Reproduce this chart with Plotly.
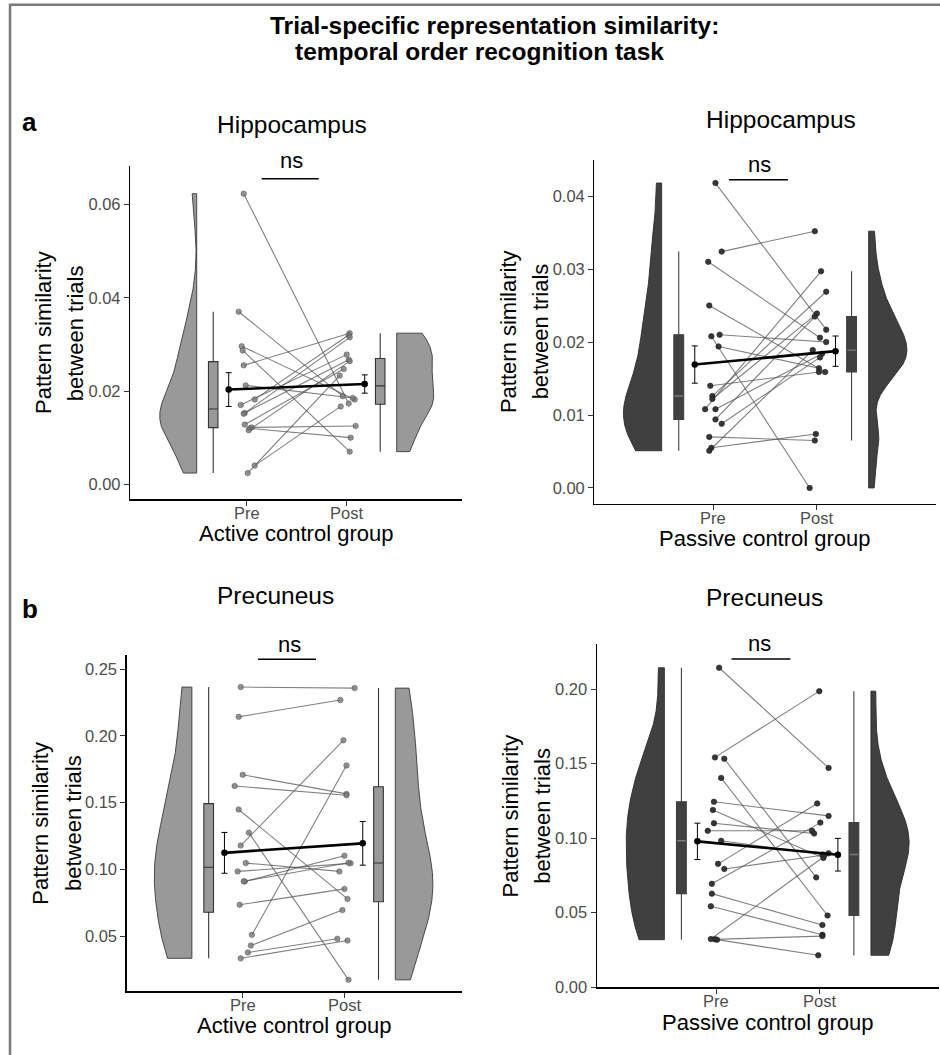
import numpy as np
import plotly.graph_objects as go

# ---------------- data ----------------
TITLE_LINES = ["Trial-specific representation similarity:", "temporal order recognition task"]
ROI_TITLES = ["Hippocampus", "Hippocampus", "Precuneus", "Precuneus"]
GROUP_LABELS = ["Active control group", "Passive control group",
                "Active control group", "Passive control group"]
SESSION_LABELS = ["Pre", "Post"]
Y_TITLE_LINES = ["Pattern similarity", "between trials"]
PANEL_LETTERS = ["a", "b"]
SIG_LABEL = "ns"

hip_active_pre = [0.0623, 0.0370, 0.0296, 0.0287, 0.0255, 0.0212, 0.0182, 0.0170,
                  0.0153, 0.0151, 0.0128, 0.0122, 0.0120, 0.0116, 0.0040, 0.0024]
hip_active_post = [0.0173, 0.0189, 0.0182, 0.0070, 0.0324, 0.0185, 0.0320, 0.0278,
                   0.0267, 0.0315, 0.0247, 0.0125, 0.0100, 0.0264, 0.0167, 0.0233]

hip_passive_pre = [0.0418, 0.0324, 0.0310, 0.0250, 0.0208, 0.0210, 0.0194, 0.0140, 0.0126,
                   0.0122, 0.0108, 0.0108, 0.0094, 0.0088, 0.0070, 0.0055, 0.0051]
hip_passive_post = [0.0217, 0.0352, 0.0206, 0.0159, 0.0000, 0.0200, 0.0164, 0.0159, 0.0269,
                    0.0239, 0.0297, 0.0184, 0.0235, 0.0179, 0.0065, 0.0074, 0.0189]

prec_active_pre = [0.2365, 0.2142, 0.1708, 0.1624, 0.1448, 0.1275, 0.1178, 0.1047,
                   0.0985, 0.0909, 0.0911, 0.0735, 0.0510, 0.0430, 0.0378, 0.0334]
prec_active_post = [0.2357, 0.2268, 0.1565, 0.1555, 0.0779, 0.0173, 0.1966, 0.0985,
                    0.1045, 0.1102, 0.1050, 0.0854, 0.1778, 0.0695, 0.0480, 0.0467]

prec_passive_pre = [0.2144, 0.1542, 0.1533, 0.1404, 0.1244, 0.1189, 0.1100, 0.1049, 0.0982,
                    0.0827, 0.0793, 0.0693, 0.0627, 0.0542, 0.0322, 0.0320, 0.0318]
prec_passive_post = [0.1471, 0.1987, 0.0736, 0.0480, 0.1149, 0.0867, 0.1031, 0.1049, 0.0890,
                     0.1233, 0.0887, 0.1104, 0.0416, 0.0351, 0.0898, 0.0342, 0.0213]

y_ticks_hip_active = [0.00, 0.02, 0.04, 0.06]
y_ticks_hip_passive = [0.00, 0.01, 0.02, 0.03, 0.04]
y_ticks_prec_active = [0.05, 0.10, 0.15, 0.20, 0.25]
y_ticks_prec_passive = [0.00, 0.05, 0.10, 0.15, 0.20]

# ---------------- layout / style constants ----------------
W, H = 940, 1055
FONT = "Liberation Sans, Arial, Helvetica, sans-serif"

# horizontal jitter of the individual points (position only)
JIT = {
    "a1": ([-0.03, -0.08, -0.05, -0.04, -0.03, -0.01, 0.08, -0.06, -0.02, -0.03, -0.02, 0.05, 0.03, 0.02, 0.08, 0.01],
           [0.02, -0.04, 0.08, 0.03, 0.03, 0.06, 0.02, 0.00, 0.02, 0.03, -0.03, 0.09, 0.04, 0.03, -0.06, -0.07]),
    "a2": ([0.02, 0.08, -0.05, -0.04, -0.02, 0.06, 0.05, -0.03, -0.01, -0.01, -0.08, 0.02, 0.02, 0.08, -0.04, -0.02, -0.04],
           [0.09, -0.02, 0.03, 0.08, -0.07, 0.09, 0.02, 0.02, 0.09, 0.00, 0.04, 0.05, -0.02, 0.03, -0.02, -0.01, -0.04]),
    "b1": ([-0.02, -0.04, 0.00, -0.08, -0.04, 0.06, -0.02, 0.03, -0.05, 0.02, 0.01, -0.03, 0.09, 0.08, 0.05, -0.02],
           [0.10, -0.04, 0.02, 0.02, 0.03, 0.04, -0.01, -0.05, 0.06, 0.00, 0.04, 0.00, 0.02, -0.02, -0.07, 0.03]),
    "b2": ([0.03, -0.01, 0.08, 0.05, -0.02, -0.03, -0.02, -0.08, 0.05, 0.02, 0.08, -0.04, -0.04, -0.05, -0.05, -0.01, 0.01],
           [0.09, 0.00, -0.03, 0.08, 0.09, 0.04, -0.05, -0.07, 0.03, -0.02, 0.05, 0.01, 0.03, 0.03, 0.09, 0.03, -0.01]),
}

VIOLIN_X = (0.5, 2.5)
VIOLIN_W = 0.37
BOX_X = (0.665, 2.335)
BOX_W = 0.095
MEAN_X = (0.82, 2.18)
SESSION_X = (1, 2)
SIG_X = (1.15, 1.72)
XTICK_LABEL_OFFSET = 14   # px below the x axis line

STYLE = {
    False: dict(fill="#999999", vline="#3a3a3a", bline="#333333", med=None,
                pt="rgba(120,120,120,0.8)", ptline="rgba(70,70,70,0.75)"),
    True: dict(fill="#404040", vline="#2b2b2b", bline="#404040", med="#7a7a7a",
               pt="rgba(45,45,45,0.95)", ptline="rgba(30,30,30,1)"),
}

PANELS = [
    dict(key="a1", pre=hip_active_pre, post=hip_active_post, yticks=y_ticks_hip_active, dark=False,
         xdom=(130, 462), ydom=(167, 503.3), xr=(-0.167, 3.153), yr=(-0.00326, 0.0683),
         title=(292, 125), xtitle=(296, 538), ytx=(44, 76.3), yty=335.5,
         sig_py=180, ns=(291, 162)),
    dict(key="a2", pre=hip_passive_pre, post=hip_passive_post, yticks=y_ticks_hip_passive, dark=True,
         xdom=(594.3, 936), ydom=(161, 507.7), xr=(-0.151, 3.151), yr=(-0.00218, 0.04499),
         title=(781, 120), xtitle=(765, 542.5), ytx=(508.3, 540.6), yty=334.3,
         sig_py=181, ns=(759, 166)),
    dict(key="b1", pre=prec_active_pre, post=prec_active_post, yticks=y_ticks_prec_active, dark=False,
         xdom=(126.5, 461.7), ydom=(660, 999), xr=(-0.143, 3.153), yr=(0.00862, 0.2605),
         title=(275, 600), xtitle=(294, 1033), ytx=(40.5, 72.8), yty=829.5,
         sig_py=664.3, ns=(289, 649)),
    dict(key="b2", pre=prec_passive_pre, post=prec_passive_post, yticks=y_ticks_prec_passive, dark=True,
         xdom=(596.7, 938.6), ydom=(649.3, 995), xr=(-0.155, 3.155), yr=(-0.0003, 0.2301),
         title=(764, 601.7), xtitle=(767.5, 1030), ytx=(510.7, 543), yty=822,
         sig_py=664, ns=(759.5, 648)),
]


def pxx(x):
    return x / W


def pxy(y):
    return 1 - y / H


def half_violin(values, x_flat, direction):
    v = np.asarray(values, dtype=float)
    n = len(v)
    sd = v.std(ddof=1)
    q75, q25 = np.percentile(v, [75, 25])
    lo = min(sd, (q75 - q25) / 1.34) or sd
    bw = 0.9 * lo * n ** -0.2
    grid = np.linspace(v.min(), v.max(), 512)
    dens = np.exp(-0.5 * ((grid[:, None] - v[None, :]) / bw) ** 2).sum(axis=1)
    w = dens / dens.max() * VIOLIN_W
    xs = np.concatenate([x_flat + direction * w, [x_flat, x_flat, x_flat + direction * w[0]]])
    ys = np.concatenate([grid, [grid[-1], grid[0], grid[0]]])
    return xs, ys


def box_stats(values):
    v = np.asarray(values, dtype=float)
    q1, med, q3 = np.percentile(v, [25, 50, 75])
    iqr = q3 - q1
    lf = v[v >= q1 - 1.5 * iqr].min()
    uf = v[v <= q3 + 1.5 * iqr].max()
    return q1, med, q3, lf, uf


fig = go.Figure()
layout_axes = {}

for i, p in enumerate(PANELS):
    n = i + 1
    xa = "x" if n == 1 else f"x{n}"
    ya = "y" if n == 1 else f"y{n}"
    st = STYLE[p["dark"]]
    series = [p["pre"], p["post"]]

    # half violins
    for s, vals in enumerate(series):
        xs, ys = half_violin(vals, VIOLIN_X[s], -1 if s == 0 else 1)
        fig.add_trace(go.Scatter(x=xs, y=ys, mode="lines", fill="toself",
                                 fillcolor=st["fill"], line=dict(color=st["vline"], width=0.9),
                                 xaxis=xa, yaxis=ya, showlegend=False, hoverinfo="skip"))

    # boxes
    for s, vals in enumerate(series):
        q1, med, q3, lf, uf = box_stats(vals)
        fig.add_trace(go.Box(x=[BOX_X[s]], q1=[q1], median=[med], q3=[q3],
                             lowerfence=[lf], upperfence=[uf], width=BOX_W,
                             fillcolor=st["fill"], line=dict(color=st["bline"], width=1.1),
                             whiskerwidth=0, boxpoints=False,
                             xaxis=xa, yaxis=ya, showlegend=False, hoverinfo="skip"))
        if st["med"]:
            fig.add_trace(go.Scatter(x=[BOX_X[s] - BOX_W / 2 + 0.006, BOX_X[s] + BOX_W / 2 - 0.006],
                                     y=[med, med], mode="lines",
                                     line=dict(color=st["med"], width=1.4),
                                     xaxis=xa, yaxis=ya, showlegend=False, hoverinfo="skip"))

    # paired lines
    jpre, jpost = JIT[p["key"]]
    lx, ly = [], []
    for k in range(len(p["pre"])):
        lx += [SESSION_X[0] + jpre[k], SESSION_X[1] + jpost[k], None]
        ly += [p["pre"][k], p["post"][k], None]
    fig.add_trace(go.Scatter(x=lx, y=ly, mode="lines",
                             line=dict(color="rgba(85,85,85,0.75)", width=1.1),
                             xaxis=xa, yaxis=ya, showlegend=False, hoverinfo="skip"))

    # points
    for s, vals in enumerate(series):
        jit = jpre if s == 0 else jpost
        fig.add_trace(go.Scatter(x=[SESSION_X[s] + j for j in jit], y=vals, mode="markers",
                                 marker=dict(color=st["pt"], size=5.5,
                                             line=dict(color=st["ptline"], width=0.6)),
                                 xaxis=xa, yaxis=ya, showlegend=False, hoverinfo="skip"))

    # mean +/- SE
    means = [float(np.mean(v)) for v in series]
    ses = [float(np.std(v, ddof=1) / np.sqrt(len(v))) for v in series]
    fig.add_trace(go.Scatter(x=list(MEAN_X), y=means, mode="lines+markers",
                             line=dict(color="black", width=2.6),
                             marker=dict(color="black", size=6.5),
                             error_y=dict(type="data", array=ses, color="black", thickness=1, width=3),
                             xaxis=xa, yaxis=ya, showlegend=False, hoverinfo="skip"))

    # axes
    common = dict(showgrid=False, zeroline=False, showline=True, linecolor="black", linewidth=1.2,
                  ticks="outside", ticklen=5, tickwidth=1, tickcolor="#333333",
                  tickfont=dict(family=FONT, size=16.5, color="#4d4d4d"))
    layout_axes["xaxis" if n == 1 else f"xaxis{n}"] = dict(
        domain=[pxx(p["xdom"][0]), pxx(p["xdom"][1])], range=list(p["xr"]), anchor=ya,
        tickmode="array", tickvals=list(SESSION_X), ticktext=SESSION_LABELS,
        showticklabels=False, **common)
    layout_axes["yaxis" if n == 1 else f"yaxis{n}"] = dict(
        domain=[pxy(p["ydom"][1]), pxy(p["ydom"][0])], range=list(p["yr"]), anchor=xa,
        tickmode="array", tickvals=p["yticks"], tickformat=".2f", **common)

fig.update_layout(width=W, height=H, autosize=False,
                  margin=dict(l=0, r=0, t=0, b=0),
                  paper_bgcolor="white", plot_bgcolor="rgba(0,0,0,0)",
                  font=dict(family=FONT, color="black"),
                  **layout_axes)

ann = []
shapes = []

# main title
ann.append(dict(x=pxx(494), y=pxy(26), text=f"<b>{TITLE_LINES[0]}</b>", font=dict(size=24.5)))
ann.append(dict(x=pxx(480), y=pxy(52), text=f"<b>{TITLE_LINES[1]}</b>", font=dict(size=24.5)))
# panel letters
ann.append(dict(x=pxx(29), y=pxy(123), text=f"<b>{PANEL_LETTERS[0]}</b>", font=dict(size=26)))
ann.append(dict(x=pxx(30), y=pxy(614), text=f"<b>{PANEL_LETTERS[1]}</b>", font=dict(size=26)))

for i, p in enumerate(PANELS):
    n = i + 1
    xa = "x" if n == 1 else f"x{n}"
    ann.append(dict(x=pxx(p["title"][0]), y=pxy(p["title"][1]), text=ROI_TITLES[i], font=dict(size=24.5)))
    ann.append(dict(x=pxx(p["xtitle"][0]), y=pxy(p["xtitle"][1]), text=GROUP_LABELS[i], font=dict(size=22)))
    for k in range(2):
        ann.append(dict(x=pxx(p["ytx"][k]), y=pxy(p["yty"]), text=Y_TITLE_LINES[k],
                        textangle=-90, font=dict(size=22)))
    ann.append(dict(x=pxx(p["ns"][0]), y=pxy(p["ns"][1]), text=SIG_LABEL, font=dict(size=22)))
    shapes.append(dict(type="line", xref=xa, yref="paper", x0=SIG_X[0], x1=SIG_X[1],
                       y0=pxy(p["sig_py"]), y1=pxy(p["sig_py"]), line=dict(color="black", width=1.5)))
    # x tick labels (Pre / Post)
    for s in range(2):
        ann.append(dict(x=SESSION_X[s], xref_axis=xa, y=pxy(p["ydom"][1] + XTICK_LABEL_OFFSET),
                        text=SESSION_LABELS[s], font=dict(size=16.5, color="#4d4d4d")))

for a in ann:
    xr = a.pop("xref_axis", "paper")
    a.update(xref=xr, yref="paper", xanchor="center", yanchor="middle", showarrow=False)
    a["font"].setdefault("color", "black")
    a["font"].update(family=FONT)

# outer frame
shapes.append(dict(type="rect", xref="paper", yref="paper", x0=pxx(10), x1=1.02,
                   y0=-0.02, y1=pxy(4.7), line=dict(color="#7a7a7a", width=2.5),
                   fillcolor="rgba(0,0,0,0)"))

fig.update_layout(annotations=ann, shapes=shapes)
fig.write_html("out.html", config={"displayModeBar": False, "staticPlot": True},
               post_script="document.body.style.margin='0px';document.body.style.padding='0px';")
